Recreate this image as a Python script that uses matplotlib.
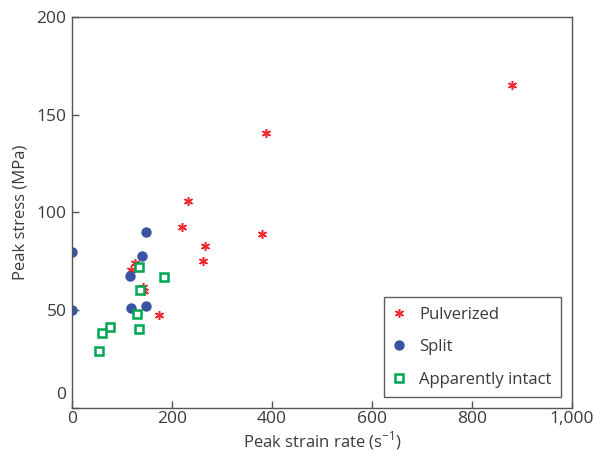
import matplotlib.pyplot as plt
import matplotlib.transforms as mtransforms

# data
pulv_rate = [880, 388, 232, 220, 266, 380, 262, 126, 118, 145, 142, 174]
pulv_stress = [165, 140.5, 106, 92.5, 83, 89, 75, 74, 70.5, 60, 62, 47.5]

split_rate = [0, 0, 148, 141, 116, 118, 148]
split_stress = [80, 50, 90, 77.5, 67.5, 51, 52]

intact_rate = [134, 185, 137, 130, 135, 76, 61, 54]
intact_stress = [72, 67, 60.5, 48, 40.5, 41.5, 38.5, 29]

xticks = [0, 200, 400, 600, 800, 1000]
xticklabels = ['0', '200', '400', '600', '800', '1,000']
yticks = [0, 50, 100, 150, 200]

plt.rcParams['font.family'] = ['Open Sans', 'DejaVu Sans']
text_col = '#3a3a3a'

fig = plt.figure(figsize=(5.96, 4.54), dpi=100)
ax = fig.add_axes([0.1208, 0.1013, 0.8389, 0.8613])

ax.plot(pulv_rate, pulv_stress, ls='none', marker=(6, 2, 0), ms=6.5, mew=1.1,
        color='#ee2a30', label='Pulverized')
ax.plot(split_rate, split_stress, ls='none', marker='o', ms=7.5,
        color='#3a54a4', mec='none', label='Split')
ax.plot(intact_rate, intact_stress, ls='none', marker='s', ms=5.8, mew=1.8,
        mfc='white', mec='#00a650', label='Apparently intact')

ax.set_xlim(0, 1000)
ax.set_ylim(0, 200)
ax.set_xticks(xticks)
ax.set_xticklabels(xticklabels)
ax.set_yticks(yticks)

for s in ax.spines.values():
    s.set_color('#555555')
    s.set_linewidth(1.0)
ax.tick_params(direction='in', length=5, width=1, color='#555555',
               labelsize=12.5, labelcolor=text_col, top=False, right=False)
ax.tick_params(axis='y', pad=4)
ax.tick_params(axis='x', pad=2)

# lift the y "0" label clear of the x "0"
lab0 = ax.get_yticklabels()[0]
lab0.set_transform(lab0.get_transform() +
                   mtransforms.ScaledTranslation(0, 15 / 100, fig.dpi_scale_trans))

ax.set_xlabel('Peak strain rate (s$^{\\mathregular{-1}}$)', fontsize=12,
              color=text_col, labelpad=2)
ax.set_ylabel('Peak stress (MPa)', fontsize=12, color=text_col, labelpad=6)

leg = ax.legend(loc='lower right', bbox_to_anchor=(0.978, 0.028),
                fontsize=12, frameon=True, fancybox=False, borderpad=0.55,
                labelspacing=1.0, handletextpad=0.8, handlelength=0.8,
                borderaxespad=0.0)
leg.get_frame().set_edgecolor('#333333')
leg.get_frame().set_linewidth(1.0)
for t in leg.get_texts():
    t.set_color(text_col)

fig.savefig('out.png', dpi=100)
